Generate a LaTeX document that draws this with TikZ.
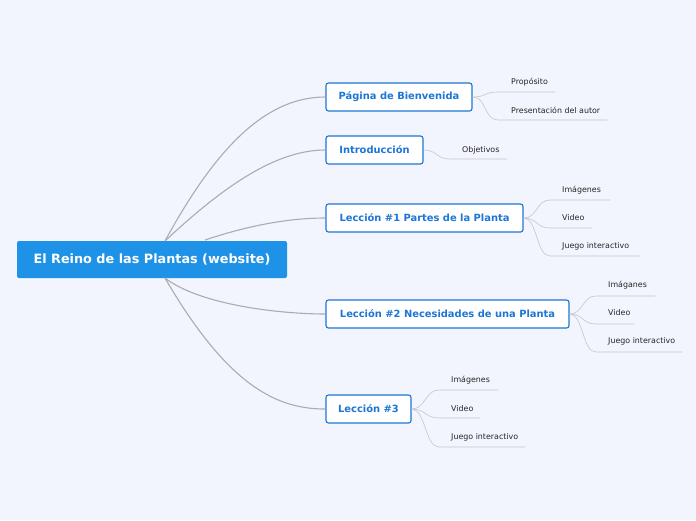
\documentclass[tikz,border=0pt]{standalone}
\usepackage{fontspec}
\setmainfont{DejaVu Sans}
\begin{document}
\begin{tikzpicture}[x=1pt,y=-1pt,
  topic/.style={draw=blue1,fill=white,line width=1.1pt,rounded corners=2.5pt,minimum height=28pt,inner xsep=8pt,font=\bfseries\fontsize{9.9}{11}\selectfont,text=blue1},
  leaf/.style={anchor=west,inner sep=0pt,font=\fontsize{7.9}{9}\selectfont,text=black!85},
  conn/.style={draw=gray!65,line width=1.1pt},
  sub/.style={draw=gray!45,line width=0.6pt}]
\definecolor{blue1}{RGB}{28,118,214}
\definecolor{rootc}{RGB}{30,146,230}
\definecolor{bg}{RGB}{242,245,254}
\fill[bg] (0,0) rectangle (696,520);
\useasboundingbox (0,0) rectangle (696,520);
\node[fill=rootc,rounded corners=2pt,minimum width=270pt,minimum height=37pt,text=white,font=\bfseries\fontsize{12.8}{14}\selectfont] (root) at (152,259.5) {El Reino de las Plantas (website)};
\node[topic,minimum width=146pt] (p) at (399,97) {Página de Bienvenida};
\node[topic,minimum width=97pt] (i) at (374.5,150) {Introducción};
\node[topic,minimum width=197pt] (l1) at (424.5,218) {Lección \#1 Partes de la Planta};
\node[topic,minimum width=243pt] (l2) at (447.5,314) {Lección \#2 Necesidades de una Planta};
\node[topic,minimum width=85pt] (l3) at (368.5,409) {Lección \#3};
\coordinate (r1) at (165,241);
\coordinate (r2) at (165,278);
\coordinate (r3) at (205,240);
\draw[conn] (r1) .. controls (220,140) and (270,97) .. (p.west);
\draw[conn] (r1) .. controls (230,180) and (280,150) .. (i.west);
\draw[conn] (r3) .. controls (250,225) and (290,218) .. (l1.west);
\draw[conn] (r2) .. controls (200,305) and (280,314) .. (l2.west);
\draw[conn] (r2) .. controls (230,390) and (280,409) .. (l3.west);
% leaves
\foreach \nm/\pa/\tx/\ty/\ly/\lx/\ex/\t in {
 a/p/511/82/92/498/555/Propósito,
 b/p/511/110/120/498/607/Presentación del autor,
 c/i/462/150/159/450/507/Objetivos,
 d/l1/562/190/200/550/610/Imágenes,
 e/l1/562/218/228/550/592/Video,
 f/l1/562/246/256/550/640/Juego interactivo,
 g/l2/608/285/296/596/655/Imáganes,
 h/l2/608/313/324/596/634/Video,
 k/l2/608/341/352/596/682/Juego interactivo,
 m/l3/451/380/390/439/498/Imágenes,
 n/l3/451/409/418/439/480/Video,
 o/l3/451/437/447/439/525/Juego interactivo}{
  \node[leaf] (\nm) at (\tx,\ty) {\t};
  \coordinate (\nm s) at (\lx,\ly);
  \coordinate (\nm e) at (\ex,\ly);
  \draw[sub] (\pa.east) .. controls ([xshift=14pt]\pa.east) and ([xshift=-14pt]\nm s) .. (\nm s) -- (\nm e);
}
\end{tikzpicture}
\end{document}
